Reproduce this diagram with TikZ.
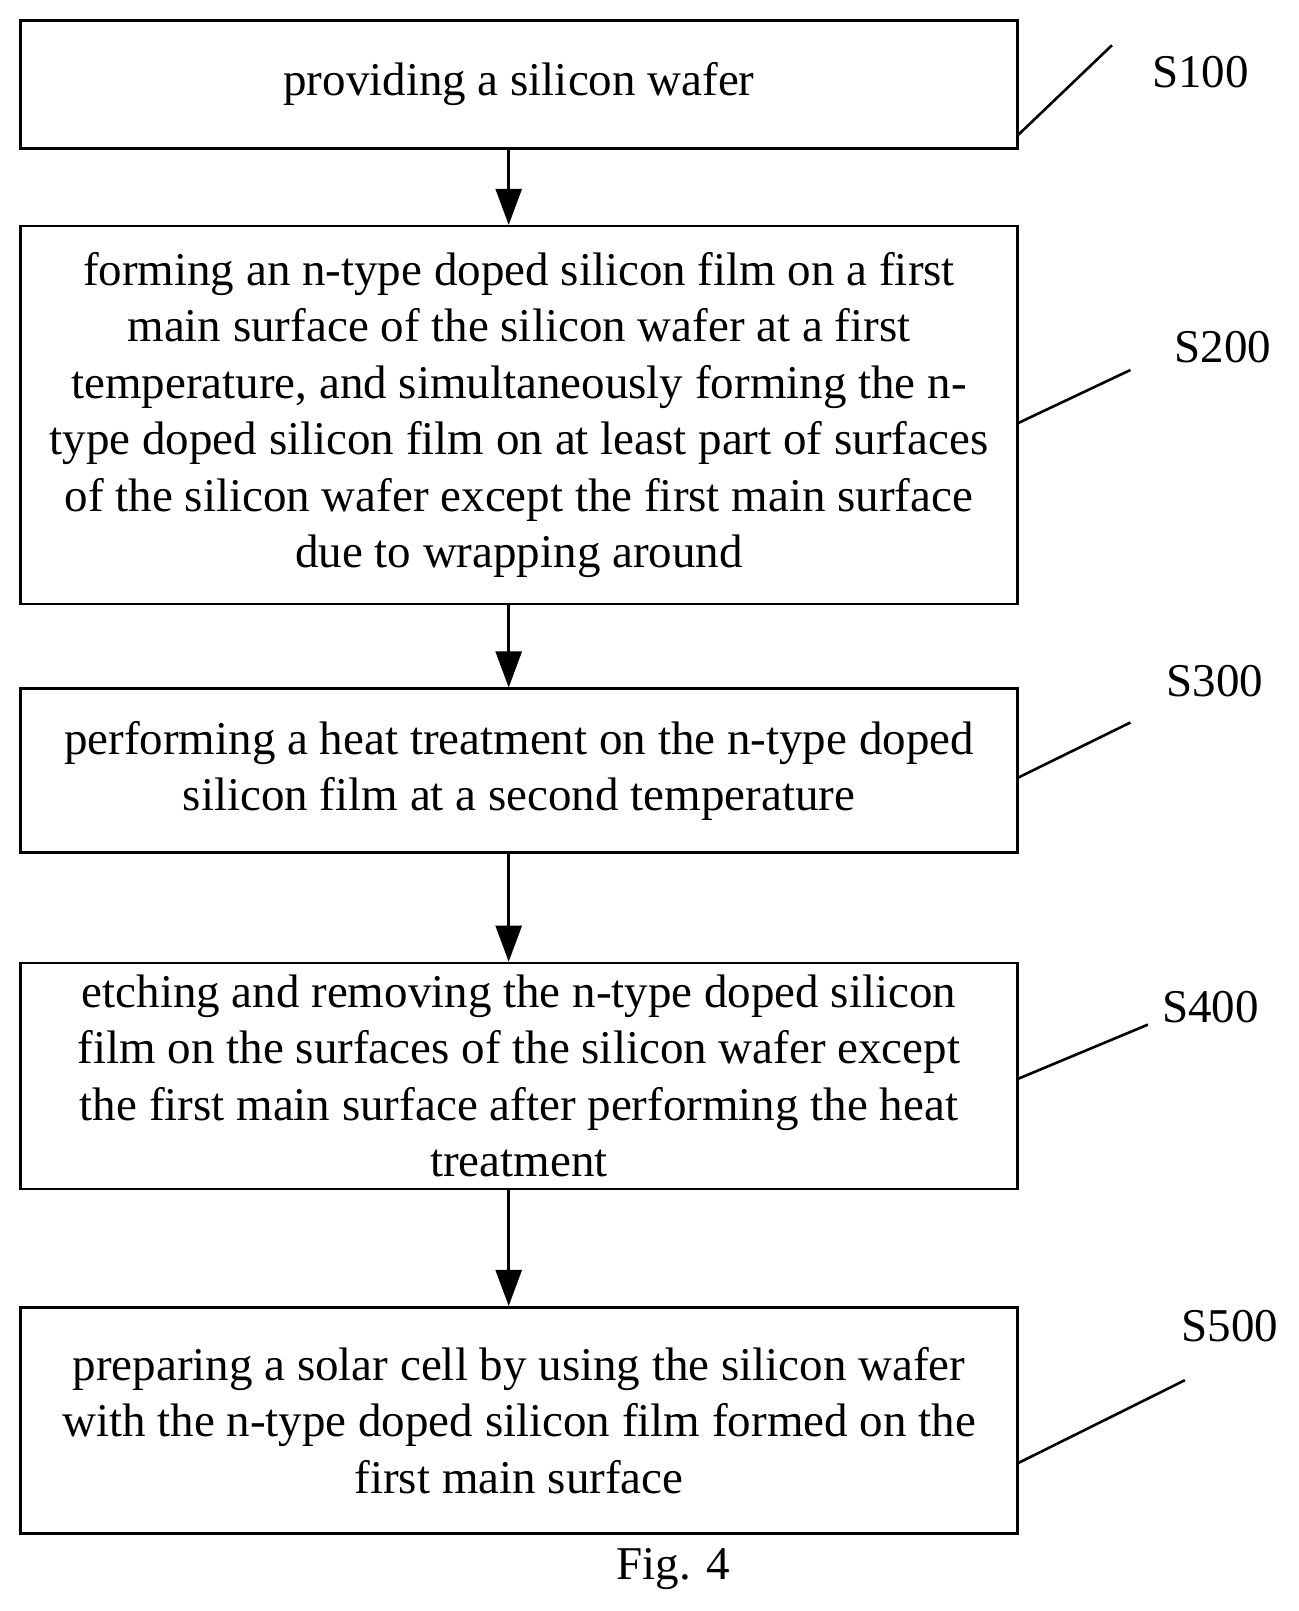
\documentclass[tikz,border=0pt]{standalone}
\usepackage{fontspec}
\setmainfont{Liberation Serif}
\usetikzlibrary{arrows.meta}
\begin{document}
\begin{tikzpicture}[x=1.0277pt,y=-1.0277pt,
  stepbox/.style={draw,line width=2.6pt,align=center,font=\fontsize{47}{56.5}\selectfont,inner sep=0pt},
  lbl/.style={font=\fontsize{47}{56}\selectfont},
  arr/.style={line width=2.6pt,-{Triangle[length=36pt,width=26pt]}},
  lead/.style={line width=2.6pt}]
\useasboundingbox (0,0) rectangle (1264,1567.6);
\node[stepbox,minimum width=997pt,minimum height=128pt] (b1) at (505,82) {providing a silicon wafer};
\node[stepbox,minimum width=997pt,minimum height=378pt] (b2) at (505,404) {forming an n-type doped silicon film on a first\\main surface of the silicon wafer at a first\\temperature, and simultaneously forming the n-\\type doped silicon film on at least part of surfaces\\of the silicon wafer except the first main surface\\due to wrapping around};
\node[stepbox,minimum width=997pt,minimum height=164pt] (b3) at (505,750) {performing a heat treatment on the n-type doped\\silicon film at a second temperature};
\node[stepbox,minimum width=997pt,minimum height=226pt] (b4) at (505,1047) {etching and removing the n-type doped silicon\\film on the surfaces of the silicon wafer except\\the first main surface after performing the heat\\treatment};
\node[stepbox,minimum width=997pt,minimum height=226pt] (b5) at (505,1382) {preparing a solar cell by using the silicon wafer\\with the n-type doped silicon film formed on the\\first main surface};
\draw[arr] (b1.south -| 495,0) -- (b2.north -| 495,0);
\draw[arr] (b2.south -| 495,0) -- (b3.north -| 495,0);
\draw[arr] (b3.south -| 495,0) -- (b4.north -| 495,0);
\draw[arr] (b4.south -| 495,0) -- (b5.north -| 495,0);
\coordinate (e1) at (1082,44); \coordinate (e2) at (1100,360); \coordinate (e3) at (1100,703);
\coordinate (e4) at (1117,997); \coordinate (e5) at (1153,1343);
\draw[lead] (990,132) -- (e1);
\draw[lead] (990,412) -- (e2);
\draw[lead] (990,757) -- (e3);
\draw[lead] (990,1050) -- (e4);
\draw[lead] (990,1424) -- (e5);
\node[lbl] (l1) at (1168,70) {S100};
\node[lbl] (l2) at (1190,338) {S200};
\node[lbl] (l3) at (1182,663) {S300};
\node[lbl] (l4) at (1178,980) {S400};
\node[lbl] (l5) at (1197,1290) {S500};
\node[lbl] (fig) at (655,1527) {Fig. 4};
\end{tikzpicture}
\end{document}
